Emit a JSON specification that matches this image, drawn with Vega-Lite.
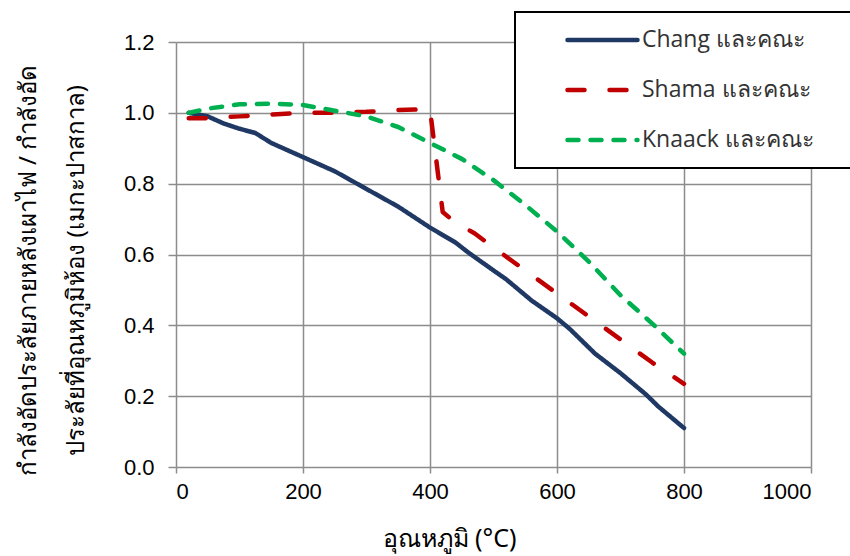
{
  "$schema": "https://vega.github.io/schema/vega-lite/v6.json",
  "width": 635,
  "height": 425,
  "autosize": "none",
  "padding": {"left": 176, "top": 42, "right": 39, "bottom": 89},
  "background": "white",
  "config": {
    "view": {"stroke": null},
    "axis": {
      "gridColor": "#8c8c8c",
      "gridWidth": 1.5,
      "gridOpacity": 1,
      "domain": false,
      "tickColor": "#8c8c8c",
      "tickWidth": 1.5,
      "labelFont": "Liberation Sans",
      "labelFontSize": 22,
      "labelColor": "#000000",
      "titleFont": "Noto Sans",
      "titleFontSize": 24,
      "titleFontWeight": "normal",
      "titleColor": "#000000"
    }
  },
  "data": {
    "values": [
      {"s": "Chang และคณะ", "t": 20, "v": 1.0},
      {"s": "Chang และคณะ", "t": 50, "v": 0.99},
      {"s": "Chang และคณะ", "t": 75, "v": 0.97},
      {"s": "Chang และคณะ", "t": 100, "v": 0.955},
      {"s": "Chang และคณะ", "t": 125, "v": 0.943},
      {"s": "Chang และคณะ", "t": 150, "v": 0.915},
      {"s": "Chang และคณะ", "t": 200, "v": 0.875},
      {"s": "Chang และคณะ", "t": 250, "v": 0.835},
      {"s": "Chang และคณะ", "t": 275, "v": 0.81},
      {"s": "Chang และคณะ", "t": 300, "v": 0.785},
      {"s": "Chang และคณะ", "t": 325, "v": 0.76},
      {"s": "Chang และคณะ", "t": 350, "v": 0.735},
      {"s": "Chang และคณะ", "t": 400, "v": 0.676},
      {"s": "Chang และคณะ", "t": 440, "v": 0.634},
      {"s": "Chang และคณะ", "t": 460, "v": 0.606},
      {"s": "Chang และคณะ", "t": 500, "v": 0.555},
      {"s": "Chang และคณะ", "t": 520, "v": 0.53},
      {"s": "Chang และคณะ", "t": 560, "v": 0.47},
      {"s": "Chang และคณะ", "t": 600, "v": 0.42},
      {"s": "Chang และคณะ", "t": 620, "v": 0.39},
      {"s": "Chang และคณะ", "t": 660, "v": 0.32},
      {"s": "Chang และคณะ", "t": 700, "v": 0.265},
      {"s": "Chang และคณะ", "t": 740, "v": 0.205},
      {"s": "Chang และคณะ", "t": 760, "v": 0.17},
      {"s": "Chang และคณะ", "t": 800, "v": 0.11},
      {"s": "Shama และคณะ", "t": 20, "v": 0.985},
      {"s": "Shama และคณะ", "t": 50, "v": 0.985},
      {"s": "Shama และคณะ", "t": 100, "v": 0.99},
      {"s": "Shama และคณะ", "t": 150, "v": 0.995},
      {"s": "Shama และคณะ", "t": 200, "v": 1.0},
      {"s": "Shama และคณะ", "t": 250, "v": 1.0},
      {"s": "Shama และคณะ", "t": 300, "v": 1.003},
      {"s": "Shama และคณะ", "t": 350, "v": 1.008},
      {"s": "Shama และคณะ", "t": 400, "v": 1.01},
      {"s": "Shama และคณะ", "t": 420, "v": 0.72},
      {"s": "Shama และคณะ", "t": 440, "v": 0.69},
      {"s": "Shama และคณะ", "t": 470, "v": 0.66},
      {"s": "Shama และคณะ", "t": 500, "v": 0.62},
      {"s": "Shama และคณะ", "t": 550, "v": 0.555},
      {"s": "Shama และคณะ", "t": 600, "v": 0.49},
      {"s": "Shama และคณะ", "t": 650, "v": 0.425},
      {"s": "Shama และคณะ", "t": 700, "v": 0.36},
      {"s": "Shama และคณะ", "t": 750, "v": 0.295},
      {"s": "Shama และคณะ", "t": 800, "v": 0.235},
      {"s": "Knaack และคณะ", "t": 20, "v": 1.0},
      {"s": "Knaack และคณะ", "t": 50, "v": 1.012},
      {"s": "Knaack และคณะ", "t": 100, "v": 1.024},
      {"s": "Knaack และคณะ", "t": 150, "v": 1.026},
      {"s": "Knaack และคณะ", "t": 200, "v": 1.022},
      {"s": "Knaack และคณะ", "t": 250, "v": 1.006},
      {"s": "Knaack และคณะ", "t": 300, "v": 0.99},
      {"s": "Knaack และคณะ", "t": 350, "v": 0.96},
      {"s": "Knaack และคณะ", "t": 400, "v": 0.915},
      {"s": "Knaack และคณะ", "t": 450, "v": 0.87},
      {"s": "Knaack และคณะ", "t": 500, "v": 0.81},
      {"s": "Knaack และคณะ", "t": 550, "v": 0.74},
      {"s": "Knaack และคณะ", "t": 600, "v": 0.665},
      {"s": "Knaack และคณะ", "t": 650, "v": 0.58},
      {"s": "Knaack และคณะ", "t": 700, "v": 0.485},
      {"s": "Knaack และคณะ", "t": 750, "v": 0.405},
      {"s": "Knaack และคณะ", "t": 800, "v": 0.32}
    ]
  },
  "mark": {"type": "line", "strokeWidth": 4.5, "strokeCap": "round", "strokeJoin": "round"},
  "encoding": {
    "x": {
      "field": "t",
      "type": "quantitative",
      "scale": {"domain": [0, 1000], "nice": false},
      "axis": {
        "values": [0, 200, 400, 600, 800, 1000],
        "format": "d",
        "tickSize": 6,
        "labelPadding": 8,
        "title": "อุณหภูมิ (°C)",
        "titleFontSize": 25,
        "titleX": 273,
        "titleY": 79,
        "titleAlign": "center",
        "titleBaseline": "alphabetic"
      }
    },
    "y": {
      "field": "v",
      "type": "quantitative",
      "scale": {"domain": [0, 1.2], "nice": false},
      "axis": {
        "values": [0, 0.2, 0.4, 0.6, 0.8, 1.0, 1.2],
        "format": ".1f",
        "tickSize": 8,
        "labelPadding": 14,
        "title": ["กำลังอัดประลัยภายหลังเผาไฟ / กำลังอัด", "ประลัยที่อุณหภูมิห้อง (เมกะปาสกาล)"],
        "titleAngle": -90,
        "titleX": -141,
        "titleY": 228,
        "titleAlign": "center",
        "titleBaseline": "alphabetic",
        "titleLineHeight": 48
      }
    },
    "color": {
      "field": "s",
      "type": "nominal",
      "scale": {
        "domain": ["Chang และคณะ", "Shama และคณะ", "Knaack และคณะ"],
        "range": ["#1F3864", "#C00000", "#00B050"]
      },
      "legend": {
        "title": null,
        "orient": "none",
        "legendX": 339,
        "legendY": -30,
        "padding": 15.5,
        "fillColor": "white",
        "strokeColor": "black",
        "symbolType": "M-3.5,0H3.5",
        "symbolSize": 400,
        "symbolStrokeWidth": 4.5,
        "symbolOffset": 59.5,
        "labelOffset": 27,
        "rowPadding": 25,
        "labelFont": "Open Sans",
        "labelFontSize": 23,
        "labelColor": "#333333",
        "labelLimit": 400,
        "labelExpr": "datum.label + '\u2800\u2800'",
        "encode": {
          "legend": {"update": {"strokeWidth": {"value": 2}}},
          "symbols": {"update": {"strokeCap": {"value": "round"}}}
        }
      }
    },
    "strokeDash": {
      "field": "s",
      "type": "nominal",
      "scale": {
        "domain": ["Chang และคณะ", "Shama และคณะ", "Knaack และคณะ"],
        "range": [[1, 0], [17, 25], [11, 12]]
      },
      "legend": null
    }
  }
}
